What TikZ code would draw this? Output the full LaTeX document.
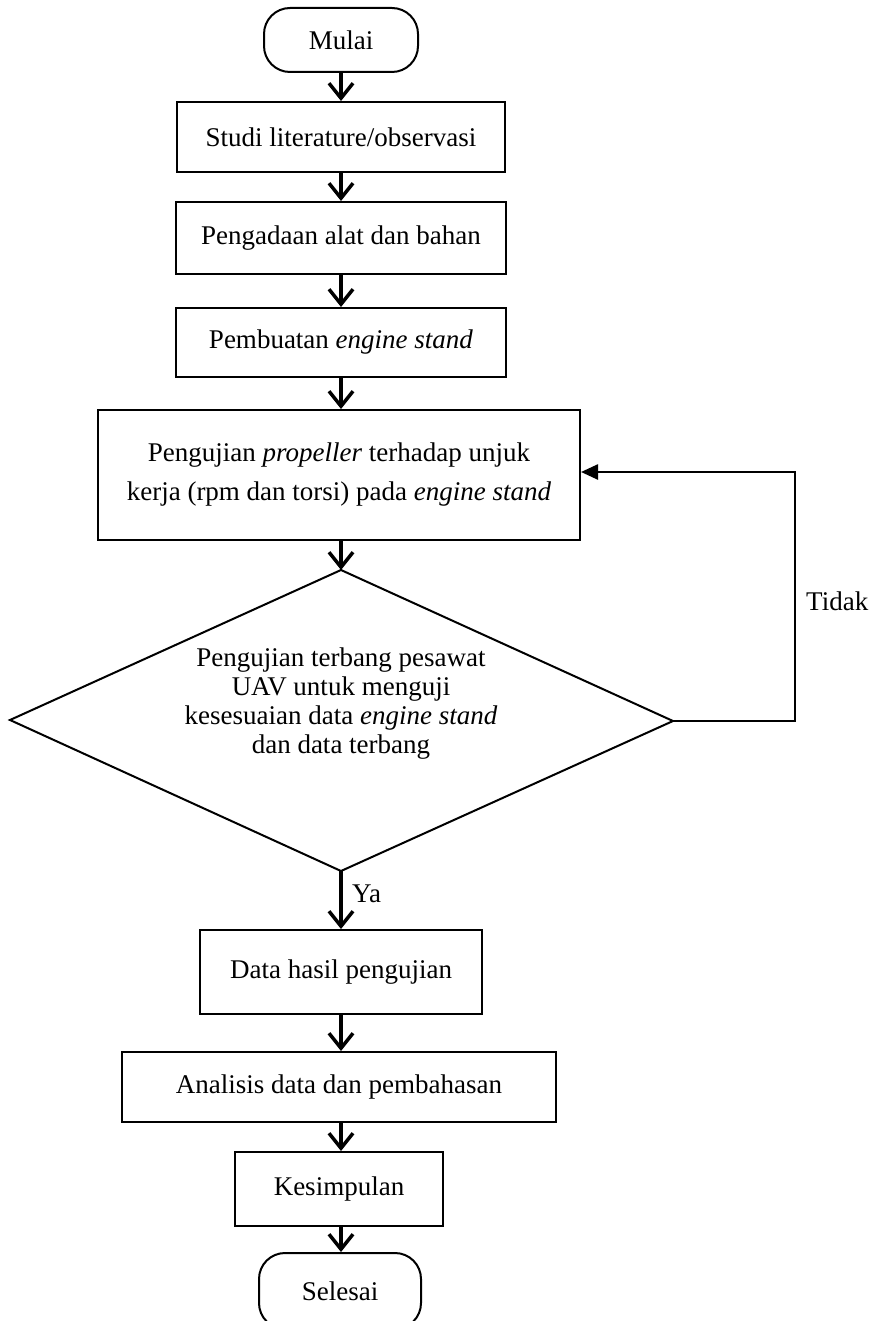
\documentclass[tikz,border=0pt]{standalone}
\usepackage{fontspec}
\setmainfont{Liberation Serif}
\usetikzlibrary{arrows.meta}
\begin{document}
\begin{tikzpicture}[x=1pt,y=-1pt,
  every node/.style={font=\fontsize{27}{33}\selectfont},
  procbox/.style={draw, line width=2pt, rectangle, inner sep=0pt, align=center},
  termbox/.style={draw, line width=2pt, rectangle, rounded corners=26pt, inner sep=0pt, align=center},
  flow/.style={line width=3.5pt, -{Straight Barb[length=15pt,width=24pt]}},
  back/.style={line width=2.5pt, -{Triangle[length=17pt,width=15pt]}},
  lbl/.style={inner sep=0pt}
]
\clip (0,0) rectangle (876,1321);
\useasboundingbox (0,0) rectangle (876,1321);

\node[termbox, minimum width=154pt, minimum height=64pt] (mulai) at (341,40) {Mulai};
\node[procbox, minimum width=328pt, minimum height=70pt] (studi) at (341,137) {Studi literature/observasi};
\node[procbox, minimum width=330pt, minimum height=72pt] (adaan) at (341,238) {Pengadaan alat dan bahan};
\node[procbox, minimum width=330pt, minimum height=69pt] (buat) at (341,342.5) {Pembuatan \textit{engine stand}};
\node[procbox, minimum width=482pt, minimum height=130pt, font=\fontsize{27}{39}\selectfont] (uji) at (339,475)
  {Pengujian \textit{propeller} terhadap unjuk\\kerja (rpm dan torsi) pada \textit{engine stand}};

% decision diamond
\coordinate (dtop) at (341,570);
\coordinate (dright) at (673,721);
\coordinate (dbot) at (341,871);
\coordinate (dleft) at (10,720);
\draw[line width=2pt, line join=miter] (dtop) -- (dright) -- (dbot) -- (dleft) -- cycle;
\node[lbl, align=center, font=\fontsize{27}{29}\selectfont] (dtext) at (341,704)
  {Pengujian terbang pesawat\\UAV untuk menguji\\kesesuaian data \textit{engine stand}\\dan data terbang};

\node[procbox, minimum width=282pt, minimum height=84pt] (hasil) at (341,972) {Data hasil pengujian};
\node[procbox, minimum width=434pt, minimum height=70pt] (anal) at (339,1087) {Analisis data dan pembahasan};
\node[procbox, minimum width=208pt, minimum height=74pt] (simp) at (339,1189) {Kesimpulan};
\node[termbox, minimum width=162pt, minimum height=76pt] (selesai) at (340,1291) {Selesai};

\draw[flow] (mulai) -- (studi);
\draw[flow] (studi) -- (adaan);
\draw[flow] (adaan) -- (buat);
\draw[flow] (buat) -- (buat.south |- uji.north);
\draw[flow] (uji.south -| dtop) -- (dtop);
\draw[flow] (dbot) -- (hasil);
\draw[flow] (hasil) -- (anal.north -| hasil);
\draw[flow] (anal.south -| hasil) -- (simp.north -| hasil);
\draw[flow] (simp.south -| hasil) -- (selesai.north -| hasil);

\coordinate (corner1) at (795,721);
\coordinate (corner2) at (795,472);
\draw[back] (dright) -- (corner1) -- (corner2) -- (corner2 -| uji.east);

\node[lbl, anchor=west] (tidak) at (806,601) {Tidak};
\node[lbl, anchor=west] (ya) at (352,894) {Ya};
\end{tikzpicture}
\end{document}
